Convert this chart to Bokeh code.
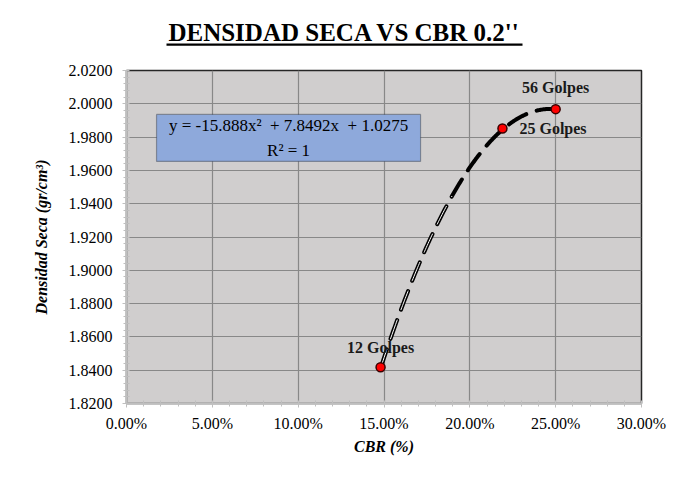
import numpy as np
from bokeh.plotting import figure
from bokeh.layouts import column
from bokeh.models import (Range1d, NumeralTickFormatter, FixedTicker,
                          Label, BoxAnnotation, ColumnDataSource)
from bokeh.embed import file_html
from bokeh.resources import INLINE

# ---- data ----
golpes = ["12 Golpes", "25 Golpes", "56 Golpes"]
cbr = [0.148, 0.219, 0.250]            # CBR (fraction)
densidad = [1.8418, 1.9852, 1.9968]    # gr/cm3
coef = [-15.888, 7.8492, 1.0275]       # polynomial trend (x^2, x, 1)
r2 = 1
x_ticks = [0.00, 0.05, 0.10, 0.15, 0.20, 0.25, 0.30]
y_ticks = [1.82, 1.84, 1.86, 1.88, 1.90, 1.92, 1.94, 1.96, 1.98, 2.00, 2.02]
title_text = "DENSIDAD SECA VS CBR 0.2''"
eq_text = "y = -15.888x\u00b2\u00a0\u00a0+ 7.8492x\u00a0\u00a0+ 1.0275"
r2_text = "R\u00b2 = 1"

FONT = "Liberation Serif"
W = 671
FL, FR = 126, 641   # frame left / right in page pixels

# ---- title strip (page-pixel coordinates, y downward) ----
t = figure(width=W, height=54, output_backend="svg", toolbar_location=None,
           x_range=Range1d(FL, FR), y_range=Range1d(54, 0),
           min_border_left=FL, min_border_right=W - FR,
           min_border_top=0, min_border_bottom=0,
           outline_line_color=None, border_fill_color="white",
           background_fill_color="white")
t.axis.visible = False
t.grid.visible = False
t.add_layout(Label(x=344, y=32, text=title_text, text_align="center",
                   text_baseline="middle", text_font=FONT,
                   text_font_size="25px", text_font_style="bold",
                   text_color="#000000"))
t.add_layout(BoxAnnotation(left=166, right=522, top=43, bottom=45.2,
                           fill_color="black", fill_alpha=1.0,
                           line_color=None))

# ---- main chart ----
p = figure(width=W, height=419, output_backend="svg", toolbar_location=None,
           x_range=Range1d(0, 0.30), y_range=Range1d(1.82, 2.02),
           min_border_left=FL, min_border_right=W - FR,
           min_border_top=16, min_border_bottom=70)

p.background_fill_color = "#D0CECE"
p.border_fill_color = "white"
p.outline_line_color = "#262626"
p.outline_line_width = 1.5

x_minor = [i * 0.01 for i in range(31)]
y_minor = [1.82 + i * 0.004 for i in range(51)]
xt = FixedTicker(ticks=x_ticks, minor_ticks=x_minor)
yt = FixedTicker(ticks=y_ticks, minor_ticks=y_minor)
p.xaxis.ticker = xt
p.yaxis.ticker = yt
p.xgrid.ticker = xt
p.ygrid.ticker = yt
for g in (p.xgrid, p.ygrid):
    g.grid_line_color = "#888888"
    g.grid_line_width = 1.2

p.xaxis.formatter = NumeralTickFormatter(format="0.00%")
p.yaxis.formatter = NumeralTickFormatter(format="0.0000")

for ax in (p.xaxis, p.yaxis):
    ax.axis_line_color = "#BFBFBF"
    ax.axis_line_width = 2
    ax.major_tick_line_color = "#BFBFBF"
    ax.major_tick_out = 4
    ax.major_tick_in = 0
    ax.minor_tick_line_color = "#BFBFBF"
    ax.minor_tick_in = 3
    ax.minor_tick_out = 3
    ax.major_label_text_font = FONT
    ax.major_label_text_font_size = "16px"
    ax.major_label_text_color = "#000000"
    ax.axis_label_text_font = FONT
    ax.axis_label_text_font_size = "16px"
    ax.axis_label_text_font_style = "bold italic"
    ax.axis_label_text_color = "#000000"

p.yaxis.major_label_standoff = 10
p.xaxis.major_label_standoff = 7
p.yaxis.axis_label = "Densidad Seca (gr/cm\u00b3)"
p.xaxis.axis_label = "CBR (%)"
p.yaxis.axis_label_standoff = 16
p.xaxis.axis_label_standoff = 3

# ---- trend line ----
xs = np.linspace(min(cbr), max(cbr), 200)
ys = np.polyval(coef, xs)
p.line(xs, ys, line_color="black", line_width=4, line_dash="20 11",
       line_cap="round")
mask = xs < 0.19
p.line(xs[mask], ys[mask], line_color="white", line_width=1.0,
       line_dash="20 11", line_cap="round")

# ---- points ----
src = ColumnDataSource(dict(x=cbr, y=densidad, name=golpes))
p.scatter("x", "y", source=src, size=9, fill_color="#FF0000",
          line_color="#3A0000", line_width=1.5)

# ---- data labels ----
offs = [(0, 20, "center"), (17, 0, "left"), (0, 22, "center")]
for xv, yv, nm, (dx, dy, al) in zip(cbr, densidad, golpes, offs):
    p.add_layout(Label(x=xv, y=yv, text=nm, x_offset=dx, y_offset=dy,
                       text_align=al, text_baseline="middle",
                       text_font=FONT, text_font_size="16px",
                       text_font_style="bold", text_color="#1a1a1a"))

# ---- equation box ----
p.add_layout(BoxAnnotation(left=0.0175, right=0.1713, top=1.9936, bottom=1.9654,
                           fill_color="#8EA9DB", fill_alpha=1.0,
                           line_color="#000000", line_width=1.2))
p.add_layout(Label(x=0.0944, y=1.9870, text=eq_text, text_align="center",
                   text_baseline="middle", text_font=FONT,
                   text_font_size="17px", text_color="#000000"))
p.add_layout(Label(x=0.0944, y=1.9720, text=r2_text, text_align="center",
                   text_baseline="middle", text_font=FONT,
                   text_font_size="17px", text_color="#000000"))

layout = column(t, p, spacing=0)
open("out.html", "w").write(file_html(layout, INLINE))
